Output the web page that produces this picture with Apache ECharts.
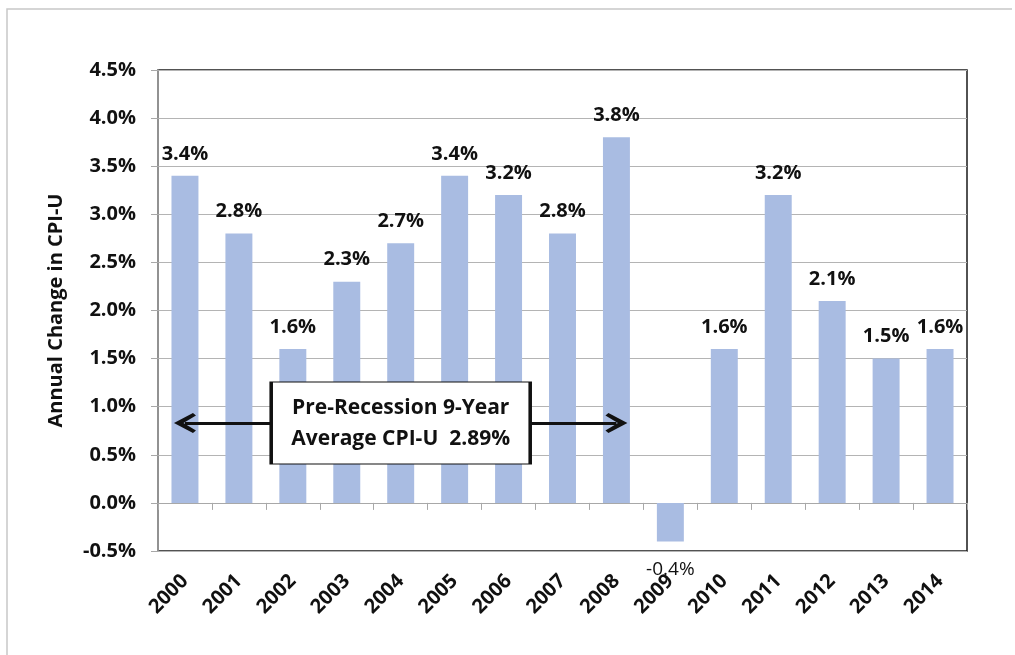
<!DOCTYPE html>
<html>
<head>
<meta charset="utf-8">
<script src="https://cdn.jsdelivr.net/npm/echarts@6/dist/echarts.min.js"></script>
<style>html,body{margin:0;padding:0;background:#fff}#c{width:1015px;height:655px}</style>
</head>
<body>
<div id="c"></div>
<script>
var years = ['2000','2001','2002','2003','2004','2005','2006','2007','2008','2009','2010','2011','2012','2013','2014'];
var cpiChange = [3.4, 2.8, 1.6, 2.3, 2.7, 3.4, 3.2, 2.8, 3.8, -0.4, 1.6, 3.2, 2.1, 1.5, 1.6];
var yTicks = { min: -0.5, max: 4.5, interval: 0.5 };
var yAxisTitle = 'Annual Change in CPI-U';
var avgText = ['Pre-Recession 9-Year', 'Average CPI-U  2.89%'];
var avgArrowFrom = ['2000', 0.83];
var avgArrowTo = ['2008', 0.83];
var avgBoxAt = ['2004', 0.83];

var FONT = '"Open Sans", "Lato", sans-serif';
var chart = echarts.init(document.getElementById('c'), null, { renderer: 'canvas' });

var chevron = 'path://M10 0 L20 19 L17.5 22 L10 9.5 L2.5 22 L0 19 Z';

var option = {
  backgroundColor: '#fff',
  animation: false,
  graphic: [
    { type: 'polyline', shape: { points: [[7, 660], [7, 9], [1012, 9]] }, style: { stroke: '#c8c8c8', lineWidth: 1.5, fill: null }, z: 0 }
  ],
  grid: { left: 158, right: 48, top: 70, bottom: 104, show: true, borderColor: '#1a1a1a', borderWidth: 1.5, backgroundColor: 'transparent' },
  xAxis: [
    {
      type: 'category', data: years, position: 'bottom',
      axisLine: { show: false, onZero: false },
      axisTick: { show: false },
      axisLabel: { rotate: 45, margin: 27, fontFamily: FONT, fontWeight: 'bold', fontSize: 20, color: '#111', interval: 0 }
    },
    {
      type: 'category', data: years, position: 'bottom',
      axisLine: { show: true, onZero: true, lineStyle: { color: '#a8a8a8', width: 1.2 } },
      axisTick: { show: true, length: 7, lineStyle: { color: '#a8a8a8' } },
      axisLabel: { show: false }
    }
  ],
  yAxis: {
    type: 'value', min: yTicks.min, max: yTicks.max, interval: yTicks.interval,
    name: yAxisTitle, nameLocation: 'middle', nameGap: 92, nameRotate: 90,
    nameTextStyle: { fontFamily: FONT, fontWeight: 'bold', fontSize: 20, color: '#111' },
    axisLine: { show: true, lineStyle: { color: '#a8a8a8', width: 1.5 } },
    axisTick: { show: true, length: 7, lineStyle: { color: '#a8a8a8' } },
    splitLine: { show: true, lineStyle: { color: '#b4b4b4', width: 1.2 } },
    axisLabel: {
      margin: 22, fontFamily: FONT, fontWeight: 'bold', fontSize: 20, color: '#111',
      formatter: function (v) { return v.toFixed(1) + '%'; }
    }
  },
  series: [
    {
      type: 'bar', xAxisIndex: 0, barCategoryGap: '50%',
      data: cpiChange.map(function (v) {
        if (v < 0) {
          return { value: v, label: { position: 'bottom', distance: 19, fontWeight: 'normal', fontSize: 19 } };
        }
        return v;
      }),
      itemStyle: { color: '#a9bce2' },
      label: {
        show: true, position: 'top', distance: 12,
        fontFamily: FONT, fontWeight: 'bold', fontSize: 20, color: '#111',
        formatter: function (p) { return p.value.toFixed(1) + '%'; }
      },
      markLine: {
        silent: true, z: 3,
        symbol: [chevron, chevron], symbolSize: [20, 22],
        lineStyle: { color: '#111', width: 3, type: 'solid' },
        itemStyle: { color: '#111' },
        label: { show: false },
        data: [[{ coord: avgArrowFrom }, { coord: avgArrowTo }]]
      }
    },
    {
      type: 'line', xAxisIndex: 0, data: [], z: 10,
      markPoint: {
        z: 10, silent: true,
        symbol: 'rect', symbolSize: [259, 82],
        itemStyle: { color: '#fff', borderColor: '#111', borderWidth: 2 },
        label: {
          show: true, position: 'inside', fontFamily: FONT, fontWeight: 'bold', fontSize: 21,
          lineHeight: 31, color: '#111', formatter: avgText.join('\n')
        },
        data: [{ coord: avgBoxAt }]
      }
    }
  ]
};
chart.setOption(option);
</script>
</body>
</html>
